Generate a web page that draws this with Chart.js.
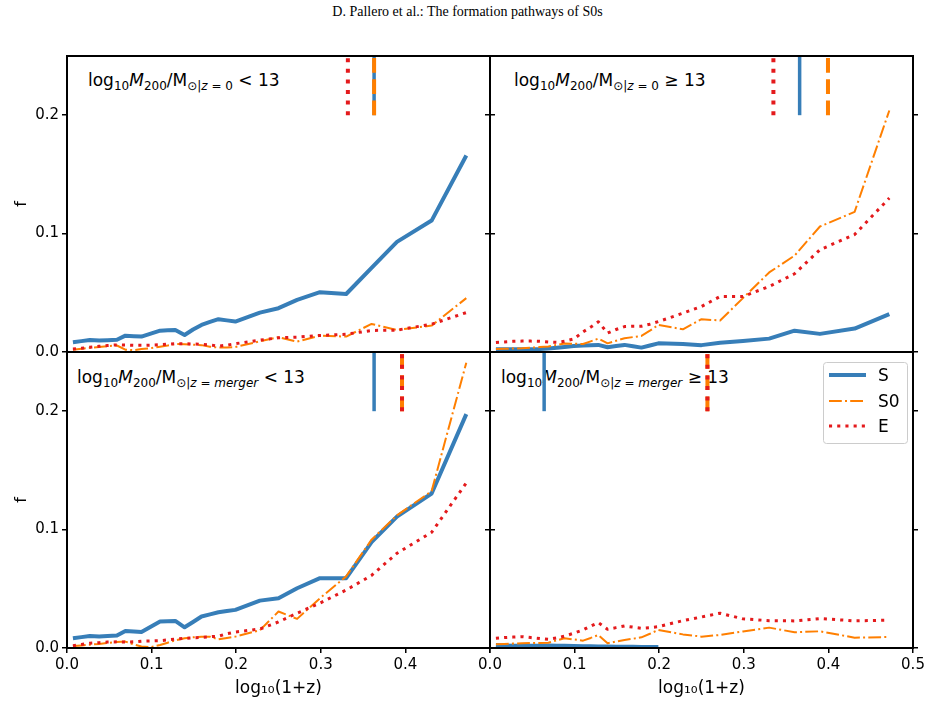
<!DOCTYPE html>
<html>
<head>
<meta charset="utf-8">
<script src="https://cdn.jsdelivr.net/npm/chart.js@4/dist/chart.umd.min.js"></script>
<style>
  body { margin: 0; background: #fff; width: 935px; height: 703px; position: relative; overflow: hidden; font-family: "DejaVu Sans", sans-serif; }
  canvas { position: absolute; left: 0; top: 0; z-index: 1; }
  #title { position: absolute; left: 0; width: 935px; top: 4px; text-align: center; font-family: "Liberation Serif", serif; font-size: 14px; }
  .note { position: absolute; z-index: 0; font-size: 17px; line-height: 20px; white-space: nowrap; color: #000; }
  .note sub { font-size: 12px; vertical-align: -4px; line-height: 0; }
  #legend { position: absolute; left: 823px; top: 362px; z-index: 2; }
</style>
</head>
<body>
<div id="title">D. Pallero et al.: The formation pathways of S0s</div>
<div class="note" style="left:88px;top:70px">log<sub>10</sub><i>M</i><sub>200</sub>/M<sub>⊙|<i>z</i> = 0</sub> &lt; 13</div>
<div class="note" style="left:514px;top:70px">log<sub>10</sub><i>M</i><sub>200</sub>/M<sub>⊙|<i>z</i> = 0</sub> ≥ 13</div>
<div class="note" style="left:77px;top:367px">log<sub>10</sub><i>M</i><sub>200</sub>/M<sub>⊙|<i>z</i> = <i>merger</i></sub> &lt; 13</div>
<div class="note" style="left:501px;top:367px">log<sub>10</sub><i>M</i><sub>200</sub>/M<sub>⊙|<i>z</i> = <i>merger</i></sub> ≥ 13</div>
<svg id="legend" width="85" height="82">
  <rect x="0.5" y="0.5" width="84" height="81" rx="3" fill="rgba(255,255,255,0.8)" stroke="#cccccc"/>
  <line x1="6" y1="13" x2="43" y2="13" stroke="#377eb8" stroke-width="4"/>
  <line x1="6" y1="39" x2="43" y2="39" stroke="#ff7f00" stroke-width="2" stroke-dasharray="12.8 3.2 2 3.2"/>
  <line x1="6" y1="64" x2="43" y2="64" stroke="#e41a1c" stroke-width="3" stroke-dasharray="3.1 5.1"/>
  <text x="55" y="19" font-size="17" font-family="DejaVu Sans">S</text>
  <text x="55" y="45" font-size="17" font-family="DejaVu Sans">S0</text>
  <text x="55" y="70" font-size="17" font-family="DejaVu Sans">E</text>
</svg>
<canvas id="c1" width="935" height="703"></canvas>
<canvas id="c2" width="935" height="703"></canvas>
<canvas id="c3" width="935" height="703"></canvas>
<canvas id="c4" width="935" height="703"></canvas>
<script>
// log10(1+z) sampling shared by every curve
const zGrid = [0.007, 0.017, 0.027, 0.038, 0.048, 0.059, 0.069, 0.079, 0.088, 0.099,
  0.110, 0.119, 0.128, 0.139, 0.149, 0.159, 0.169, 0.179, 0.189, 0.199,
  0.228, 0.250, 0.272, 0.299, 0.330, 0.360, 0.390, 0.431, 0.472];

// log10 M200 (z=0) < 13
const sLowZ0 = [0.0082, 0.0092, 0.0102, 0.0097, 0.0100, 0.0104, 0.0138, 0.0134, 0.0130, 0.0155,
  0.0180, 0.0184, 0.0186, 0.0144, 0.0190, 0.0229, 0.0254, 0.0277, 0.0267, 0.0257,
  0.0333, 0.0370, 0.0440, 0.0505, 0.0490, 0.0710, 0.0930, 0.1110, 0.1660];
const s0LowZ0 = [0.0020, 0.0028, 0.0035, 0.0042, 0.0050, 0.0055, 0.0020, 0.0015, 0.0025, 0.0032,
  0.0045, 0.0055, 0.0068, 0.0066, 0.0062, 0.0058, 0.0045, 0.0037, 0.0038, 0.0042,
  0.0090, 0.0125, 0.0088, 0.0138, 0.0130, 0.0237, 0.0186, 0.0223, 0.0455];
const eLowZ0 = [0.0025, 0.0032, 0.0040, 0.0048, 0.0055, 0.0060, 0.0058, 0.0056, 0.0056, 0.0058,
  0.0062, 0.0066, 0.0070, 0.0070, 0.0068, 0.0065, 0.0060, 0.0050, 0.0058, 0.0070,
  0.0100, 0.0120, 0.0125, 0.0140, 0.0150, 0.0182, 0.0185, 0.0235, 0.0333];

// log10 M200 (z=0) >= 13
const sHighZ0 = [0.0023, 0.0023, 0.0023, 0.0023, 0.0023, 0.0025, 0.0030, 0.0035, 0.0042, 0.0050,
  0.0055, 0.0058, 0.0060, 0.0040, 0.0050, 0.0060, 0.0048, 0.0037, 0.0055, 0.0073,
  0.0068, 0.0058, 0.0079, 0.0093, 0.0113, 0.0180, 0.0153, 0.0198, 0.0320];
const s0HighZ0 = [0.0025, 0.0027, 0.0029, 0.0031, 0.0036, 0.0042, 0.0047, 0.0060, 0.0072, 0.0070,
  0.0068, 0.0090, 0.0113, 0.0073, 0.0095, 0.0116, 0.0126, 0.0136, 0.0180, 0.0229,
  0.0192, 0.0277, 0.0266, 0.0455, 0.0672, 0.0814, 0.1060, 0.1184, 0.2040];
const eHighZ0 = [0.0080, 0.0085, 0.0090, 0.0092, 0.0092, 0.0090, 0.0085, 0.0082, 0.0090, 0.0110,
  0.0170, 0.0210, 0.0255, 0.0160, 0.0190, 0.0215, 0.0218, 0.0218, 0.0235, 0.0257,
  0.0328, 0.0384, 0.0469, 0.0469, 0.0553, 0.0661, 0.0864, 0.0992, 0.1300];

// log10 M200 (z=merger) < 13
const sLowMerger = [0.0082, 0.0092, 0.0102, 0.0097, 0.0101, 0.0105, 0.0144, 0.0140, 0.0136, 0.0180,
  0.0223, 0.0226, 0.0229, 0.0175, 0.0220, 0.0266, 0.0284, 0.0302, 0.0312, 0.0322,
  0.0400, 0.0420, 0.0505, 0.0590, 0.0590, 0.0895, 0.1110, 0.1305, 0.1975];
const s0LowMerger = [0.0017, 0.0022, 0.0028, 0.0034, 0.0042, 0.0050, 0.0054, 0.0030, 0.0012, 0.0008,
  0.0025, 0.0045, 0.0065, 0.0082, 0.0090, 0.0096, 0.0096, 0.0073, 0.0085, 0.0096,
  0.0150, 0.0308, 0.0246, 0.0420, 0.0605, 0.0915, 0.1120, 0.1325, 0.2410];
const eLowMerger = [0.0020, 0.0030, 0.0040, 0.0045, 0.0050, 0.0052, 0.0050, 0.0052, 0.0058, 0.0060,
  0.0062, 0.0068, 0.0075, 0.0082, 0.0086, 0.0090, 0.0095, 0.0100, 0.0120, 0.0135,
  0.0160, 0.0220, 0.0294, 0.0379, 0.0490, 0.0613, 0.0800, 0.0977, 0.1395];

// log10 M200 (z=merger) >= 13
const sHighMerger = [0.0025, 0.0022, 0.0020, 0.0020, 0.0018, 0.0020, 0.0022, 0.0020, 0.0018, 0.0017,
  0.0015, 0.0014, 0.0013, 0.0012, 0.0011, 0.0010, 0.0010, 0.0009, 0.0008, 0.0008,
  null, null, null, null, null, null, null, null, null];
const s0HighMerger = [0.0031, 0.0034, 0.0037, 0.0040, 0.0042, 0.0043, 0.0045, 0.0065, 0.0082, 0.0072,
  0.0062, 0.0085, 0.0110, 0.0040, 0.0055, 0.0068, 0.0078, 0.0090, 0.0120, 0.0153,
  0.0115, 0.0096, 0.0110, 0.0140, 0.0172, 0.0133, 0.0141, 0.0087, 0.0093];
const eHighMerger = [0.0082, 0.0088, 0.0092, 0.0096, 0.0088, 0.0080, 0.0073, 0.0085, 0.0100, 0.0125,
  0.0153, 0.0185, 0.0215, 0.0158, 0.0172, 0.0186, 0.0176, 0.0167, 0.0172, 0.0180,
  0.0231, 0.0262, 0.0294, 0.0246, 0.0231, 0.0229, 0.0249, 0.0229, 0.0235];

// median markers drawn at the top of each panel: [S, S0, E]
const markLowZ0 = [0.363, 0.363, 0.332];
const markHighZ0 = [0.366, 0.3995, 0.335];
const markLowMerger = [0.363, 0.396, 0.396];
const markHighMerger = [0.064, 0.257, 0.257];

const xTicks = [0, 0.1, 0.2, 0.3, 0.4, 0.5];
const yTicks = [0, 0.1, 0.2];

const BLUE = "#377eb8", ORANGE = "#ff7f00", RED = "#e41a1c";

Chart.defaults.font.family = "DejaVu Sans";
Chart.defaults.color = "#000";

const toPoints = (ys) => zGrid.map((x, i) => ({ x: x, y: ys[i] })).filter((p) => p.y !== null);
const markPoints = (x) => [{ x: x, y: 0.2 }, { x: x, y: 0.25 }];

const framePlugin = {
  id: "frame",
  afterDraw(chart) {
    const a = chart.chartArea;
    const ctx = chart.ctx;
    ctx.save();
    ctx.strokeStyle = "#000";
    ctx.lineWidth = 2;
    ctx.strokeRect(a.left, a.top, a.right - a.left, a.bottom - a.top);
    ctx.restore();
  },
};

const panels = [
  { id: "c1", area: [67, 56, 490, 352], s: sLowZ0, s0: s0LowZ0, e: eLowZ0, marks: markLowZ0, left: true, bottom: false },
  { id: "c2", area: [490, 56, 913, 352], s: sHighZ0, s0: s0HighZ0, e: eHighZ0, marks: markHighZ0, left: false, bottom: false },
  { id: "c3", area: [67, 352, 490, 648], s: sLowMerger, s0: s0LowMerger, e: eLowMerger, marks: markLowMerger, left: true, bottom: true },
  { id: "c4", area: [490, 352, 913, 648], s: sHighMerger, s0: s0HighMerger, e: eHighMerger, marks: markHighMerger, left: false, bottom: true },
];

panels.forEach((p) => {
  const yWidth = p.left ? 64 : 6;
  const xHeight = p.bottom ? 55 : 1;
  const tickGrid = { drawOnChartArea: false, drawTicks: true, tickLength: 5, color: "#000", lineWidth: 1.5 };

  new Chart(document.getElementById(p.id), {
    type: "line",
    data: {
      datasets: [
        { label: "S", data: toPoints(p.s), borderColor: BLUE, borderWidth: 4, order: 6 },
        { label: "S0", data: toPoints(p.s0), borderColor: ORANGE, borderWidth: 2, borderDash: [12.8, 3.2, 2, 3.2], order: 5 },
        { label: "E", data: toPoints(p.e), borderColor: RED, borderWidth: 3, borderDash: [3.1, 5.1], order: 4 },
        { label: "S median", data: markPoints(p.marks[0]), borderColor: BLUE, borderWidth: 3.5, order: 3 },
        { label: "S0 median", data: markPoints(p.marks[1]), borderColor: ORANGE, borderWidth: 4, borderDash: [14.8, 6.4], order: 2 },
        { label: "E median", data: markPoints(p.marks[2]), borderColor: RED, borderWidth: 4, borderDash: [4, 6.6], order: 1 },
      ],
    },
    options: {
      responsive: false,
      animation: false,
      devicePixelRatio: 1,
      layout: {
        padding: {
          left: p.area[0] - yWidth,
          right: 935 - p.area[2] - 6,
          top: p.area[1],
          bottom: 703 - p.area[3] - xHeight,
        },
      },
      elements: {
        point: { radius: 0 },
        line: { tension: 0, fill: false, borderCapStyle: "butt", borderJoinStyle: "round" },
      },
      plugins: { legend: { display: false }, tooltip: { enabled: false } },
      scales: {
        x: {
          type: "linear",
          min: 0,
          max: 0.5,
          afterBuildTicks: (s) => { s.ticks = xTicks.map((v) => ({ value: v })); },
          afterFit: (s) => { s.height = xHeight; },
          ticks: {
            display: p.bottom,
            font: { size: 15 },
            maxRotation: 0,
            autoSkip: false,
            padding: 3,
            callback: (v) => (p.left && v > 0.45 ? "" : v.toFixed(1)),
          },
          grid: { ...tickGrid, drawTicks: p.bottom },
          border: { display: false },
          title: { display: p.bottom, text: "log₁₀(1+z)", font: { size: 17 }, padding: { top: 2, bottom: 4 } },
        },
        y: {
          min: 0,
          max: 0.25,
          afterBuildTicks: (s) => { s.ticks = yTicks.map((v) => ({ value: v })); },
          afterFit: (s) => { s.width = yWidth; },
          ticks: { display: p.left, font: { size: 15 }, padding: 3, callback: (v) => v.toFixed(1) },
          grid: tickGrid,
          border: { display: false },
          title: { display: p.left, text: "f", font: { size: 16 }, padding: { top: 9, bottom: 4 } },
        },
        yr: {
          position: "right",
          min: 0,
          max: 0.25,
          afterBuildTicks: (s) => { s.ticks = yTicks.map((v) => ({ value: v })); },
          afterFit: (s) => { s.width = 6; },
          ticks: { display: false },
          grid: tickGrid,
          border: { display: false },
        },
      },
    },
    plugins: [framePlugin],
  });
});
</script>
</body>
</html>
